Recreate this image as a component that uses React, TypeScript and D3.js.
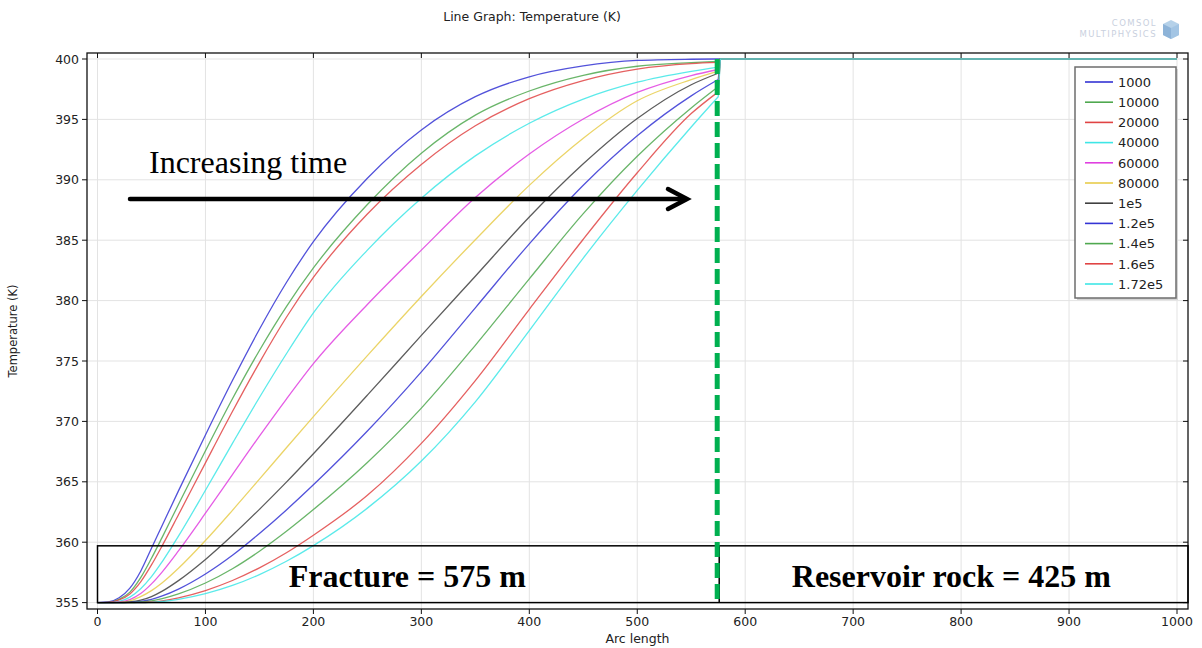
import React from "react";
import * as d3 from "d3";

// Arc length sample positions (m) shared by every temperature profile
const arcLength = [0, 10, 20, 30, 40, 50, 60, 75, 100, 125, 150, 175, 200, 250, 300, 350, 400, 450, 500, 550, 575, 577, 1000];

// Temperature (K) along the arc for each output time (s)
const t1000 = [355, 355.05, 355.4, 356.2, 357.6, 359.5, 361.4, 364.25, 368.88, 373.38, 377.63, 381.5, 384.88, 390.13, 394.13, 396.88, 398.53, 399.43, 399.88, 399.98, 400, 400, 400];
const t10000 = [355, 355.02, 355.27, 355.87, 357.07, 358.67, 360.42, 363.12, 367.57, 371.87, 375.87, 379.5, 382.7, 387.95, 392.2, 395.35, 397.35, 398.65, 399.4, 399.7, 399.8, 400, 400];
const t20000 = [355, 355.02, 355.22, 355.72, 356.72, 358.12, 359.72, 362.27, 366.57, 370.82, 374.87, 378.62, 381.92, 387.17, 391.27, 394.47, 396.72, 398.22, 399.17, 399.62, 399.72, 400, 400];
const t40000 = [355, 355, 355.1, 355.45, 356.15, 357.15, 358.4, 360.5, 364.3, 368.18, 371.98, 375.6, 378.98, 384.18, 388.48, 391.98, 394.68, 396.68, 398.08, 398.98, 399.33, 400, 400];
const t60000 = [355, 355, 355.05, 355.25, 355.75, 356.55, 357.55, 359.28, 362.4, 365.6, 368.78, 371.85, 374.78, 379.68, 384.18, 388.53, 392.13, 395.03, 397.23, 398.63, 399.13, 400, 400];
const t80000 = [355, 355, 355.02, 355.14, 355.49, 355.99, 356.64, 357.84, 360.14, 362.64, 365.22, 367.82, 370.39, 375.44, 380.34, 385.04, 389.54, 393.44, 396.54, 398.29, 398.99, 400, 400];
const t1e5 = [355, 355, 355, 355.05, 355.2, 355.5, 355.95, 356.82, 358.57, 360.57, 362.72, 364.97, 367.32, 372.17, 377.12, 382.02, 386.92, 391.32, 395.07, 397.87, 398.82, 400, 400];
const t1_2e5 = [355, 355, 355, 355.02, 355.1, 355.27, 355.55, 356.12, 357.37, 358.92, 360.72, 362.67, 364.75, 369.2, 374.1, 379.4, 384.7, 389.55, 393.65, 396.95, 398.3, 400, 400];
const t1_4e5 = [355, 355, 355, 355, 355.05, 355.15, 355.33, 355.72, 356.62, 357.8, 359.25, 360.9, 362.7, 366.6, 371.1, 376.3, 381.8, 387.2, 391.95, 395.95, 397.7, 400, 400];
const t1_6e5 = [355, 355, 355, 355, 355, 355.05, 355.15, 355.4, 356.0, 356.83, 357.88, 359.13, 360.58, 363.88, 368.18, 373.38, 379.28, 385.08, 390.58, 395.48, 397.28, 400, 400];
const t1_72e5 = [355, 355, 355, 355, 355, 355.02, 355.09, 355.27, 355.74, 356.42, 357.32, 358.42, 359.72, 362.82, 366.72, 371.62, 377.52, 383.52, 389.12, 394.37, 396.87, 400, 400];

const seriesLabels = ["1000", "10000", "20000", "40000", "60000", "80000", "1e5", "1.2e5", "1.4e5", "1.6e5", "1.72e5"];
const seriesValues = [t1000, t10000, t20000, t40000, t60000, t80000, t1e5, t1_2e5, t1_4e5, t1_6e5, t1_72e5];
const seriesColors = ["#3434d4", "#4fa84f", "#e04444", "#3ee6e6", "#e040e0", "#e8cc4c", "#404040", "#3434d4", "#4fa84f", "#e04444", "#3ee6e6"];

const xTicks = [0, 100, 200, 300, 400, 500, 600, 700, 800, 900, 1000];
const yTicks = [355, 360, 365, 370, 375, 380, 385, 390, 395, 400];

const fractureLength = 575;

const W = 1202;
const H = 648;
const frame = { left: 87, right: 1188, top: 53, bottom: 609 };

export default function App() {
  const x = d3.scaleLinear().domain([0, 1000]).range([97.5, 1177]);
  const y = d3.scaleLinear().domain([355, 400]).range([602.6, 59]);

  // smooth profile inside the fracture, straight segments across the interface and the rock
  const fracIdx = arcLength.indexOf(fractureLength);
  const smooth = d3
    .line<[number, number]>()
    .x((d) => x(d[0]))
    .y((d) => y(d[1]))
    .curve(d3.curveMonotoneX);
  const straight = d3
    .line<[number, number]>()
    .x((d) => x(d[0]))
    .y((d) => y(d[1]));
  const profilePath = (vals: number[]) => {
    const pts = arcLength.map((a, i) => [a, vals[i]] as [number, number]);
    const head = smooth(pts.slice(0, fracIdx + 1)) || "";
    const tail = (straight(pts.slice(fracIdx)) || "").replace(/^M/, "L");
    return head + tail;
  };

  const sans = "'DejaVu Sans', sans-serif";
  const serif = "'Liberation Serif', 'Times New Roman', serif";

  const boxTop = y(359.7);
  const boxBottom = y(355);
  const xFrac = x(fractureLength);

  const legendX = 1075;
  const legendY = 67;
  const rowH = 20.2;

  return (
    <svg
      width={W}
      height={H}
      style={{ position: "absolute", left: 0, top: 0, background: "#fff" }}
      xmlns="http://www.w3.org/2000/svg"
    >
      <rect x={0} y={0} width={W} height={H} fill="#fff" />

      {/* header */}
      <text x={532} y={21} textAnchor="middle" fontFamily={sans} fontSize={12.5} fill="#222">
        Line Graph: Temperature (K)
      </text>
      <g fontFamily={sans} fill="#c9d0de" fontSize={8.5} letterSpacing={1.4}>
        <text x={1157} y={26} textAnchor="end">COMSOL</text>
        <text x={1157} y={37} textAnchor="end">MULTIPHYSICS</text>
      </g>
      <g transform="translate(1171,30)" opacity={0.85}>
        <polygon points="-8,-6 0,-10 8,-6 8,5 0,9 -8,5" fill="#a9c9e6" />
        <polygon points="-8,-6 0,-2 0,9 -8,5" fill="#7aa6d2" />
        <polygon points="0,-2 8,-6 8,5 0,9" fill="#93bbe0" />
      </g>

      {/* grid */}
      <g stroke="#e3e3e3" strokeWidth={1}>
        {xTicks.map((t) => (
          <line key={"gx" + t} x1={x(t)} x2={x(t)} y1={frame.top} y2={frame.bottom} />
        ))}
        {yTicks.map((t) => (
          <line key={"gy" + t} x1={frame.left} x2={frame.right} y1={y(t)} y2={y(t)} />
        ))}
      </g>

      {/* temperature profiles */}
      <g fill="none" strokeWidth={1.3}>
        {seriesValues.map((vals, i) => (
          <path key={seriesLabels[i]} d={profilePath(vals)} stroke={seriesColors[i]} strokeOpacity={0.85} />
        ))}
      </g>

      {/* frame and ticks */}
      <rect
        x={frame.left}
        y={frame.top}
        width={frame.right - frame.left}
        height={frame.bottom - frame.top}
        fill="none"
        stroke="#111"
        strokeWidth={1.3}
      />
      <g stroke="#111" strokeWidth={1}>
        {xTicks.map((t) => (
          <g key={"tx" + t}>
            <line x1={x(t)} x2={x(t)} y1={frame.bottom} y2={frame.bottom + 5} />
            <line x1={x(t)} x2={x(t)} y1={frame.top} y2={frame.top + 5} />
          </g>
        ))}
        {yTicks.map((t) => (
          <g key={"ty" + t}>
            <line x1={frame.left - 5} x2={frame.left} y1={y(t)} y2={y(t)} />
            <line x1={frame.right - 5} x2={frame.right} y1={y(t)} y2={y(t)} />
          </g>
        ))}
      </g>
      <g fontFamily={sans} fontSize={12.5} fill="#222">
        {xTicks.map((t) => (
          <text key={"lx" + t} x={x(t)} y={626} textAnchor="middle">
            {t}
          </text>
        ))}
        {yTicks.map((t) => (
          <text key={"ly" + t} x={79} y={y(t) + 4.5} textAnchor="end">
            {t}
          </text>
        ))}
      </g>
      <text x={(frame.left + frame.right) / 2} y={643} textAnchor="middle" fontFamily={sans} fontSize={12.5} fill="#222">
        Arc length
      </text>
      <text
        transform={`translate(17,${(frame.top + frame.bottom) / 2}) rotate(-90)`}
        textAnchor="middle"
        fontFamily={sans}
        fontSize={11.5}
        fill="#222"
      >
        Temperature (K)
      </text>

      {/* legend */}
      <rect x={legendX + 2} y={legendY + 2} width={101} height={231} fill="#d4d4d4" />
      <rect x={legendX} y={legendY} width={101} height={231} fill="#fff" stroke="#6e6e6e" strokeWidth={1.5} />
      {seriesLabels.map((lab, i) => {
        const ry = legendY + 15 + i * rowH;
        return (
          <g key={"lg" + lab}>
            <line x1={legendX + 10} x2={legendX + 38} y1={ry} y2={ry} stroke={seriesColors[i]} strokeWidth={1.6} />
            <text x={legendX + 43} y={ry + 4.7} fontFamily={sans} fontSize={13} fill="#222">
              {lab}
            </text>
          </g>
        );
      })}

      {/* region annotation */}
      <rect x={x(0)} y={boxTop} width={frame.right - x(0)} height={boxBottom - boxTop} fill="none" stroke="#000" strokeWidth={1.5} />
      <line x1={xFrac + 1} x2={xFrac + 1} y1={boxTop} y2={boxBottom} stroke="#000" strokeWidth={1.5} />
      <line
        x1={xFrac - 1}
        x2={xFrac - 1}
        y1={y(400)}
        y2={boxBottom}
        stroke="#00b050"
        strokeWidth={5}
        strokeDasharray="15 6"
      />
      <text x={x(287)} y={587} textAnchor="middle" fontFamily={serif} fontWeight="bold" fontSize={32} fill="#000">
        Fracture = 575 m
      </text>
      <text x={x(791)} y={587} textAnchor="middle" fontFamily={serif} fontWeight="bold" fontSize={32} fill="#000">
        Reservoir rock = 425 m
      </text>

      {/* time arrow */}
      <text x={149} y={173} fontFamily={serif} fontSize={32} fill="#000">
        Increasing time
      </text>
      <line x1={130} x2={686} y1={199} y2={199} stroke="#000" strokeWidth={4.5} strokeLinecap="round" />
      <polyline points="668,189 687,199 668,209" fill="none" stroke="#000" strokeWidth={4.5} strokeLinecap="round" strokeLinejoin="miter" />
    </svg>
  );
}
